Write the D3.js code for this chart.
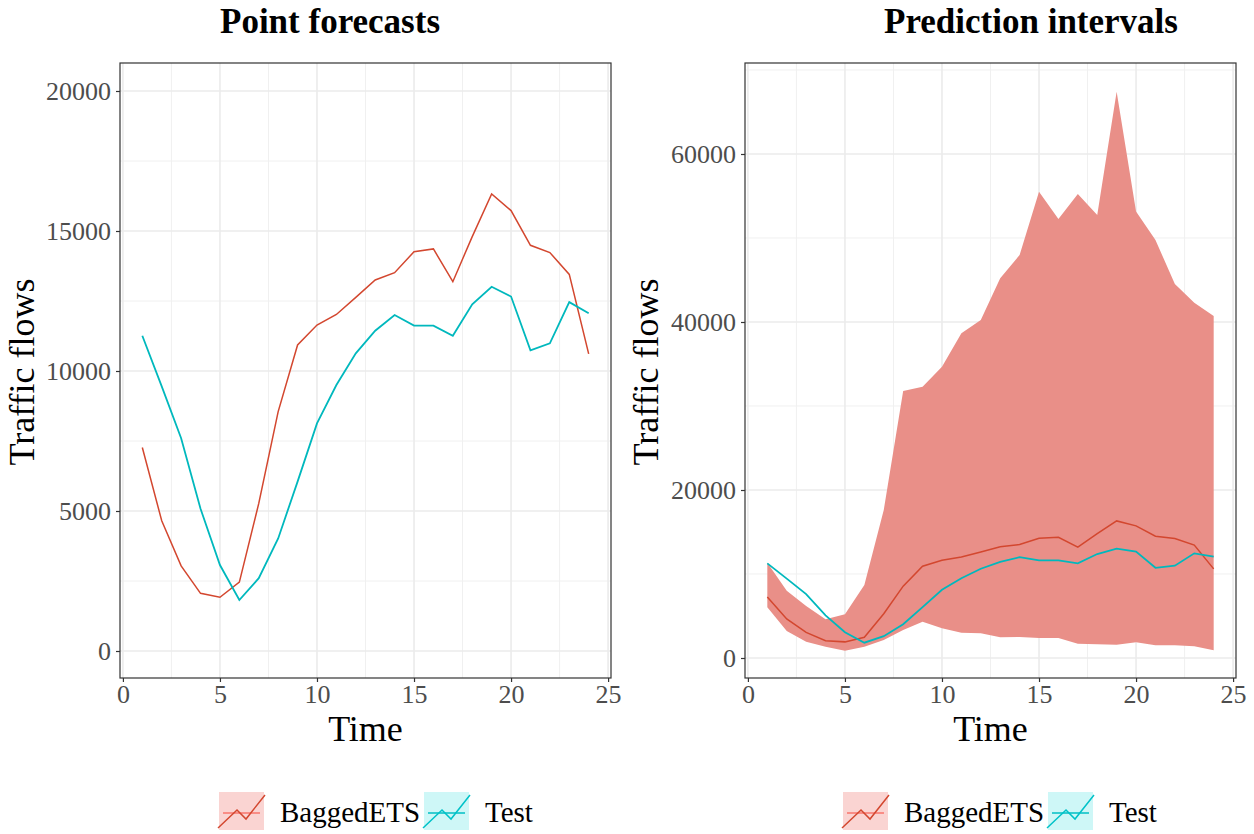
<!DOCTYPE html>
<html>
<head>
<meta charset="utf-8">
<script src="https://cdn.jsdelivr.net/npm/d3@7"></script>
<style>
  body { margin: 0; background: #fff; }
  svg { font-family: "Liberation Serif", "DejaVu Serif", serif; }
</style>
</head>
<body>
<svg id="chart" width="1254" height="834"></svg>
<script>
// data
const time = d3.range(1, 25);
const bagged = [7270, 4650, 3040, 2060, 1920, 2460, 5270, 8550, 10930, 11640, 12020, 12630,
                13250, 13510, 14260, 14360, 13190, 14800, 16320, 15730, 14490, 14230, 13450, 10610];
const test = [11260, 9450, 7600, 5080, 3070, 1820, 2600, 4020, 6050, 8130, 9500, 10630,
              11440, 12000, 11620, 11620, 11260, 12380, 13010, 12660, 10740, 10990, 12460, 12060];
const lower = [6030, 3210, 1940, 1350, 870, 1350, 2140, 3330, 4330, 3530, 3020, 2940,
               2460, 2500, 2380, 2380, 1710, 1630, 1590, 1870, 1510, 1510, 1390, 910];
const upper = [11350, 8020, 6190, 4600, 5200, 8690, 17620, 31790, 32300, 34680, 38650, 40240,
               45200, 47980, 55520, 52260, 55240, 52740, 67420, 53140, 49760, 44520, 42300, 40710];
const xTicks = [0, 5, 10, 15, 20, 25];
const leftTicks = [0, 5000, 10000, 15000, 20000];
const rightTicks = [0, 20000, 40000, 60000];
const legendLabels = ["BaggedETS", "Test"];

const RED = "#d3472f", TEAL = "#00b8bd";
const svg = d3.select("#chart");

function panel(opts) {
  const g = svg.append("g");
  const x = d3.scaleLinear().domain([-0.15, 25.15]).range([opts.x0, opts.x1]);
  const y = d3.scaleLinear().domain(opts.ydom).range([678, 63]);

  // grid
  const minorX = xTicks.slice(0, -1).map(d => d + 2.5);
  const minorY = opts.minorY;
  g.selectAll(".mx").data(minorX).join("line")
    .attr("x1", d => x(d)).attr("x2", d => x(d)).attr("y1", 63).attr("y2", 678)
    .attr("stroke", "#f0f0f0").attr("stroke-width", 1);
  g.selectAll(".my").data(minorY).join("line")
    .attr("y1", d => y(d)).attr("y2", d => y(d)).attr("x1", opts.x0).attr("x2", opts.x1)
    .attr("stroke", "#f0f0f0").attr("stroke-width", 1);
  g.selectAll(".gx").data(xTicks).join("line")
    .attr("x1", d => x(d)).attr("x2", d => x(d)).attr("y1", 63).attr("y2", 678)
    .attr("stroke", "#ebebeb").attr("stroke-width", 1.6);
  g.selectAll(".gy").data(opts.yticks).join("line")
    .attr("y1", d => y(d)).attr("y2", d => y(d)).attr("x1", opts.x0).attr("x2", opts.x1)
    .attr("stroke", "#ebebeb").attr("stroke-width", 1.6);

  if (opts.band) {
    g.append("path")
      .datum(time)
      .attr("fill", "#e98f88")
      .attr("d", d3.area().x(d => x(d)).y0((d, i) => y(lower[i])).y1((d, i) => y(upper[i])));
  }

  const line = vals => d3.line().x(d => x(d)).y((d, i) => y(vals[i]));
  g.append("path").datum(time).attr("fill", "none").attr("stroke", RED)
    .attr("stroke-width", 1.5).attr("d", line(bagged));
  g.append("path").datum(time).attr("fill", "none").attr("stroke", TEAL)
    .attr("stroke-width", 1.8).attr("d", line(test));

  // border
  g.append("rect").attr("x", opts.x0).attr("y", 63)
    .attr("width", opts.x1 - opts.x0).attr("height", 615)
    .attr("fill", "none").attr("stroke", "#333").attr("stroke-width", 1.2);

  // axes
  const xa = g.append("g").attr("transform", "translate(0,678)")
    .call(d3.axisBottom(x).tickValues(xTicks).tickSize(4).tickPadding(3));
  const ya = g.append("g").attr("transform", `translate(${opts.x0},0)`)
    .call(d3.axisLeft(y).tickValues(opts.yticks).tickSize(4).tickPadding(5).tickFormat(d3.format("d")));
  [xa, ya].forEach(a => {
    a.select(".domain").remove();
    a.selectAll(".tick line").attr("stroke", "#333").attr("stroke-width", 1.2);
    a.selectAll(".tick text").attr("fill", "#4d4d4d")
      .style("font-size", "26px").style("font-family", "Liberation Serif, serif");
  });

  // titles
  svg.append("text").attr("x", opts.titleX).attr("y", 33).attr("text-anchor", "middle")
    .style("font-size", "35px").style("font-weight", "bold").text(opts.title);
  svg.append("text").attr("x", (opts.x0 + opts.x1) / 2).attr("y", 741).attr("text-anchor", "middle")
    .style("font-size", "36px").text("Time");
  svg.append("text").attr("transform", `translate(${opts.ylabX},372) rotate(-90)`)
    .attr("text-anchor", "middle").style("font-size", "36px").text("Traffic flows");

  // legend
  const lg = svg.append("g").attr("transform", `translate(${opts.legX},792)`);
  const keys = [
    {fill: "#fad4d2", light: "#f8766d", dark: RED, dx: 0, tx: 61, label: legendLabels[0]},
    {fill: "#cef7f7", light: "#00bfc4", dark: "#00c2c8", dx: 205, tx: 266, label: legendLabels[1]}
  ];
  keys.forEach(k => {
    const kg = lg.append("g").attr("transform", `translate(${k.dx},0)`);
    kg.append("rect").attr("width", 45).attr("height", 38).attr("fill", k.fill);
    kg.append("line").attr("x1", 4).attr("x2", 41).attr("y1", 21).attr("y2", 21)
      .attr("stroke", k.light).attr("stroke-width", 1.5);
    kg.append("path").attr("d", "M-1,36L18,18L27,27L46,3")
      .attr("fill", "none").attr("stroke", k.dark).attr("stroke-width", 1.5);
    lg.append("text").attr("x", k.tx).attr("y", 30).style("font-size", "29px").text(k.label);
  });
}

panel({x0: 120, x1: 611, ydom: [-964, 21000], yticks: leftTicks,
  minorY: [2500, 7500, 12500, 17500], band: false, title: "Point forecasts",
  titleX: 330, ylabX: 34, legX: 219});
panel({x0: 745, x1: 1236, ydom: [-2381, 70833], yticks: rightTicks,
  minorY: [10000, 30000, 50000, 70000], band: true, title: "Prediction intervals",
  titleX: 1031, ylabX: 658, legX: 843});
</script>
</body>
</html>
